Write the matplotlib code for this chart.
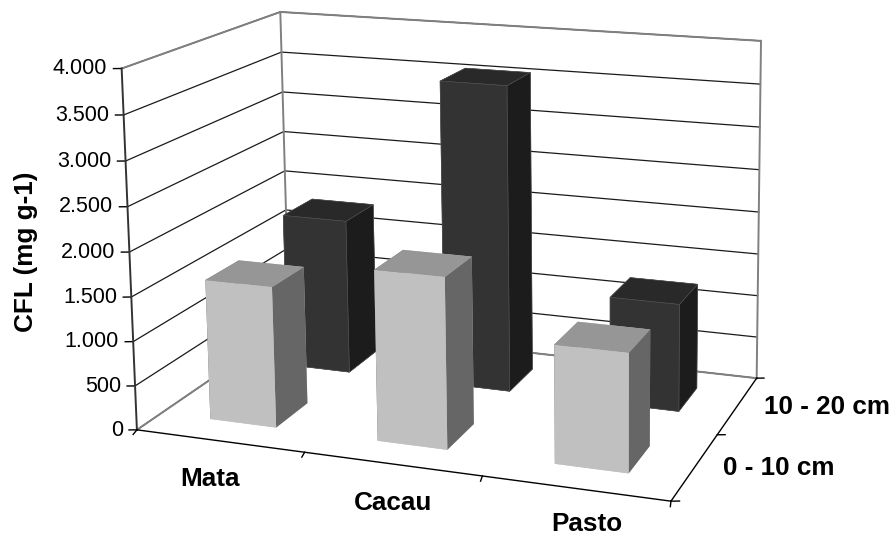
import numpy as np
import matplotlib
matplotlib.use("Agg")
import matplotlib.pyplot as plt
from mpl_toolkits.mplot3d import Axes3D  # noqa

plt.rcParams['font.family'] = ['Liberation Sans', 'DejaVu Sans']

categories = ['Mata', 'Cacau', 'Pasto']
depths = ['0 - 10 cm', '10 - 20 cm']
values_0_10 = [1590, 1900, 1295]
values_10_20 = [1830, 3570, 1240]
z_ticks = [0, 500, 1000, 1500, 2000, 2500, 3000, 3500, 4000]
z_labels = ['0', '500', '1.000', '1.500', '2.000', '2.500', '3.000', '3.500', '4.000']
ylabel = 'CFL (mg g-1)'

W, H = 896, 535
ZMAX = 4000.0
# calibration of the 3D camera: box point -> picture pixel
world = np.array([(0,0,0),(0,0,1),(0,2,1),(0,2,0),(3,2,1),(3,2,0),(3,0,0),
                  (0,0,.875),(0,0,.75),(0,0,.25),(0,0,.125),
                  (0,2,.875),(0,2,.75),(0,2,.625),(0,2,.5),
                  (3,2,.875),(3,2,.75),(3,2,.25),(3,2,.125)], float)
pix = np.array([(137,429),(122,68),(281,10),(288,324),(760,40),(757,378),(672,500),
                (123,116),(125,162),(133,342),(135,386),
                (282,52),(283,92),(284,133),(285,172),
                (760,84),(760,127),(758,297),(757,338)], float)
A, b = [], []
for (X,Y,Z),(u,v) in zip(world,pix):
    A.append([X,Y,Z,1,0,0,0,0,-u*X,-u*Y,-u*Z]); b.append(u)
    A.append([0,0,0,0,X,Y,Z,1,-v*X,-v*Y,-v*Z]); b.append(v)
s = np.linalg.lstsq(np.array(A), np.array(b), rcond=None)[0]
P = np.array([s[:4], s[4:8], [s[8],s[9],s[10],1.0]])
P[:,2] /= ZMAX

fig = plt.figure(figsize=(W/100, H/100), dpi=100, facecolor='white')
ax = fig.add_axes([0, (1-W/H)/2, 1, W/H], projection='3d', computed_zorder=False)
ax.set_axis_off()
ax.set_xticks([]); ax.set_yticks([]); ax.set_zticks([])

def get_proj():
    inv = ax.transData.inverted()
    v0 = inv.transform((0, H))      # pixel (0,0)
    v1 = inv.transform((1, H-1))    # pixel (1,1)
    ax_, bx = v1[0]-v0[0], v0[0]
    ay, by = v1[1]-v0[1], v0[1]
    return np.array([ax_*P[0]+bx*P[2], ay*P[1]+by*P[2], [0,0,0,-1.0], P[2]])
ax.get_proj = get_proj

def label3d(x, y, z, text, **kw):
    """Place a flat text at a point of the 3D box, through the camera."""
    p = P @ np.array([x, y, z, 1.0])
    fig.text(p[0]/p[2]/W, 1-p[1]/p[2]/H, text, **kw)

GRID = dict(color='#1a1a1a', lw=0.9, zorder=1)
WALL = dict(color='#808080', lw=1.4, zorder=1.5)
AXIS = dict(color='black', lw=1.0, zorder=1.6)

nx, ny = len(categories), len(depths)
for z in z_ticks:
    ax.plot([0,0,nx],[0,ny,ny],[z,z,z], **GRID)
    ax.plot([-0.04,0],[-0.016,0],[z,z], **AXIS)
# wall frame
ax.plot([0,0],[ny,ny],[0,ZMAX], **WALL)
ax.plot([nx,nx],[ny,ny],[0,ZMAX], **WALL)
ax.plot([0,0,nx],[0,ny,ny],[ZMAX,ZMAX,ZMAX], **WALL)
ax.plot([0,0,nx],[0,ny,ny],[0,0,0], **WALL)
ax.plot([0,0],[0,0],[0,ZMAX], color='#333333', lw=1.4, zorder=1.6)
# floor axes
ax.plot([0,nx,nx],[0,0,ny],[0,0,0], **AXIS)
for i in range(nx+1):
    ax.plot([i,i+0.015],[0,-0.07],[0,0], **AXIS)
for j in range(ny+1):
    ax.plot([nx,nx+0.04],[j,j+0.016],[0,0], **AXIS)

# bars
cols_front = ['#c0c0c0','#969696','#c0c0c0','#c0c0c0','#666666','#666666']
cols_back = ['#2a2a2a','#292929','#333333','#333333','#1c1c1c','#1c1c1c']
BW, BD = 0.40, 0.42
order = 2
rows = [(values_0_10, cols_front, 'none', 0, 0.0), (values_10_20, cols_back, '#555555', 0.4, 0.012)]
for j, (vals, cols, ec, lw, off) in reversed(list(enumerate(rows))):
    for i, v in enumerate(vals):
        ax.bar3d(i+0.5-BW/2+off, j+0.5-BD/2, 0, BW, BD, v, color=cols, shade=False,
                 edgecolor=ec, linewidth=lw, zorder=order, zsort='average')
        order += 1

for z, t in zip(z_ticks, z_labels):
    label3d(-0.07, -0.03, z, t, ha='right', va='center', fontsize=15.5)
label_pos = [(0.7, -0.514), (1.7, -0.494), (2.69, -0.424)]
for (x, y), c in zip(label_pos, categories):
    label3d(x, y, 0, c, ha='center', va='center', fontsize=18.8, fontweight='bold')
depth_pos = [(3.143, 0.528), (3.143, 1.528)]
for (x, y), d in zip(depth_pos, depths):
    label3d(x, y, 0, d, ha='left', va='center', fontsize=18.8, fontweight='bold')
fig.text(26/W, 1-252/H, ylabel, rotation=90, ha='center', va='center', fontsize=18.8, fontweight='bold')

fig.savefig('out.png', dpi=100, facecolor='white')
